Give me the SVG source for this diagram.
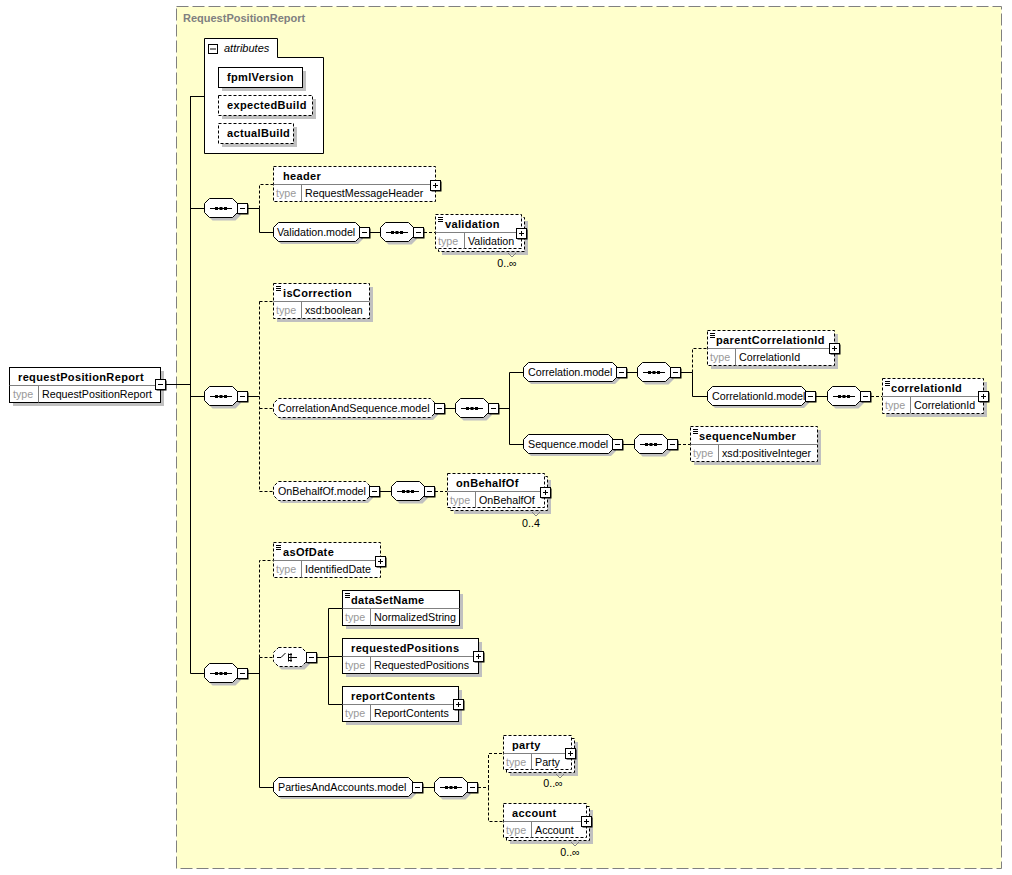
<svg xmlns="http://www.w3.org/2000/svg" xmlns:xlink="http://www.w3.org/1999/xlink" width="1012" height="875" viewBox="0 0 1012 875">
<style>
text{font-family:"Liberation Sans",Arial,sans-serif;font-size:10.7px;fill:#000}
.n{font-weight:bold;font-size:11px;letter-spacing:0.35px}
.t{fill:#999}
.title{font-weight:bold;font-size:11px;fill:#808080}
.it{font-style:italic;font-size:11px}
.el{fill:#fff;stroke:#000}
.dash{stroke-dasharray:3,2}
.sh{fill:#c0c0c0}
.div{fill:none;stroke:#808080}
.ln{fill:none;stroke:#000}
.dl{fill:none;stroke:#000;stroke-dasharray:3,2}
.card{text-anchor:middle}
</style>
<defs>
<g id="mi"><rect x="1.5" y="1.5" width="10" height="10" fill="#000"/><rect x="0.5" y="0.5" width="10" height="10" fill="#fff" stroke="#000"/><path d="M3,5.5H8" stroke="#000"/></g>
<g id="pl"><rect x="1.5" y="1.5" width="10" height="10" fill="#000"/><rect x="0.5" y="0.5" width="10" height="10" fill="#fff" stroke="#000"/><path d="M3,5.5H8M5.5,3V8" stroke="#000"/></g>
<path id="oct" d="M5.5,0.5H28.5L33.5,5.5V14.5L28.5,19.5H5.5L0.5,14.5V5.5Z"/>
<g id="seq">
<use xlink:href="#oct" x="3" y="3" class="sh"/>
<use xlink:href="#oct" fill="#fff" stroke="#000"/>
<path d="M6,10.5H28" stroke="#000"/>
<rect x="11" y="9" width="3" height="3" fill="#000"/><rect x="15.5" y="9" width="3" height="3" fill="#000"/><rect x="20" y="9" width="3" height="3" fill="#000"/>
<use xlink:href="#mi" x="33" y="5"/>
</g>
<g id="choice">
<use xlink:href="#oct" x="3" y="3" class="sh"/>
<use xlink:href="#oct" fill="#fff" stroke="#000" stroke-dasharray="3,2"/>
<path d="M4,10.5H8L12.5,6M15.5,6.5V14.5M15.5,7.5H18M15.5,10.5H24M15.5,13.5H18" stroke="#000" fill="none"/>
<rect x="17" y="6.5" width="2" height="2" fill="#000"/><rect x="17" y="9.5" width="2" height="2" fill="#000"/><rect x="17" y="12.5" width="2" height="2" fill="#000"/>
<use xlink:href="#mi" x="33" y="5"/>
</g>
<path id="icon" d="M2,2.5H7M2,4.5H7M2,6.5H7" stroke="#000"/>
</defs>

<rect x="176.5" y="6.5" width="825" height="862" fill="#ffffcc" stroke="#808080" stroke-dasharray="12,4"/>
<text class="title" x="183" y="22">RequestPositionReport</text>

<g id="connectors">
<path class="ln" d="M165,384.5H190.5M190.5,96V673.5M190.5,96.5H204M190.5,208.5H204M248,208.5H259.5V232.5H273M370,232.5H380"/>
<path class="dl" d="M259.5,208.5V184.5H273M424,232.5H435"/>
<path class="ln" d="M190.5,396.5H204M248,396.5H259.5"/>
<path class="dl" d="M259.5,301.5V491.5M259.5,301.5H273M259.5,408.5H273M259.5,491.5H273"/>
<path class="ln" d="M445,408.5H455M499,408.5H509.5M509.5,372.5V444.5M509.5,372.5H523M509.5,444.5H523M627,372.5H637M681,372.5H692.5V396.5H707M816,396.5H827M623,444.5H634M380,491.5H391"/>
<path class="dl" d="M692.5,372.5V348.5H707M871,396.5H882M678,444.5H690M435,491.5H447"/>
<path class="ln" d="M190.5,673.5H204M248,673.5H259.5M259.5,657.5V787.5H273M317,657.5H328.5M328.5,608.5V704.5M328.5,608.5H342M328.5,656.5H342M328.5,704.5H342M423,787.5H434"/>
<path class="dl" d="M259.5,657.5V560.5H273M259.5,657.5H273M478,787.5H488.5V753.5H503M488.5,787.5V821.5H503"/>
</g>

<g id="requestPositionReport">
<rect class="sh" x="13" y="371" width="151" height="35"/>
<rect class="el" x="9.5" y="367.5" width="151" height="35"/>
<path class="div" d="M9.5,385.5H160.5M38.5,385.5V402.5"/>
<text class="n" x="18" y="381">requestPositionReport</text>
<text class="t" x="13" y="398">type</text>
<text x="42" y="398">RequestPositionReport</text>
<use xlink:href="#mi" x="155" y="379"/>
</g>

<g id="attributes">
<path class="el" d="M204.5,38.5H277.5V57.5H323.5V153.5H204.5Z"/>
<rect x="208.5" y="44.5" width="9" height="9" fill="#fff" stroke="#000"/>
<path d="M210,49H216" stroke="#000"/>
<text class="it" x="224" y="52">attributes</text>
<rect class="sh" x="222" y="71" width="84" height="20"/>
<rect class="el" x="218.5" y="67.5" width="84" height="20"/>
<text class="n" x="227" y="81">fpmlVersion</text>
<rect class="sh" x="222" y="99" width="94" height="20"/>
<rect class="el dash" x="218.5" y="95.5" width="94" height="20"/>
<text class="n" x="227" y="109">expectedBuild</text>
<rect class="sh" x="222" y="127" width="75" height="20"/>
<rect class="el dash" x="218.5" y="123.5" width="75" height="20"/>
<text class="n" x="227" y="137">actualBuild</text>
</g>

<g id="seq1"><use xlink:href="#seq" x="204" y="198"/></g>
<g id="header">
<rect class="el dash" x="273.5" y="166.5" width="162" height="35"/>
<path class="div" d="M273.5,184.5H435.5M301.5,184.5V201.5"/>
<text class="n" x="283" y="180">header</text>
<text class="t" x="276" y="197">type</text>
<text x="305" y="197">RequestMessageHeader</text>
<use xlink:href="#pl" x="430" y="180"/>
</g>
<g id="Validation.model">
<path class="sh" d="M281,225H358L363,230V239L358,244H281L276,239V230Z"/>
<path class="el" d="M278.5,222.5H355.5L360.5,227.5V236.5L355.5,241.5H278.5L273.5,236.5V227.5Z"/>
<text x="277" y="236">Validation.model</text>
<use xlink:href="#mi" x="359" y="227"/>
</g>
<g id="seq1b"><use xlink:href="#seq" x="380" y="222"/></g>
<g id="validation">
<rect class="sh" x="442" y="221" width="86" height="34"/>
<rect class="el dash" x="438.5" y="217.5" width="86" height="34"/>
<rect class="el dash" x="435.5" y="214.5" width="86" height="34"/>
<path class="div" d="M435.5,232.5H521.5M464.5,232.5V248.5"/>
<use xlink:href="#icon" x="436" y="215"/>
<text class="n" x="445" y="228">validation</text>
<text class="t" x="438" y="245">type</text>
<text x="468" y="245">Validation</text>
<use xlink:href="#pl" x="516" y="228"/>
<path d="M508,253L512,257L516,253" fill="none" stroke="#808080"/>
<text class="card" x="507" y="267">0..∞</text>
</g>

<g id="seq2"><use xlink:href="#seq" x="204" y="386"/></g>
<g id="isCorrection">
<rect class="sh" x="277" y="287" width="96" height="35"/>
<rect class="el dash" x="273.5" y="283.5" width="96" height="35"/>
<path class="div" d="M273.5,301.5H369.5M301.5,301.5V318.5"/>
<use xlink:href="#icon" x="274" y="284"/>
<text class="n" x="283" y="297">isCorrection</text>
<text class="t" x="276" y="314">type</text>
<text x="305" y="314">xsd:boolean</text>
</g>
<g id="CorrelationAndSequence.model">
<path class="sh" d="M281,401H433L438,406V415L433,420H281L276,415V406Z"/>
<path class="el dash" d="M278.5,398.5H430.5L435.5,403.5V412.5L430.5,417.5H278.5L273.5,412.5V403.5Z"/>
<text x="278" y="412">CorrelationAndSequence.model</text>
<use xlink:href="#mi" x="434" y="403"/>
</g>
<g id="seqCS"><use xlink:href="#seq" x="455" y="398"/></g>
<g id="Correlation.model">
<path class="sh" d="M531,365H615L620,370V379L615,384H531L526,379V370Z"/>
<path class="el" d="M528.5,362.5H612.5L617.5,367.5V376.5L612.5,381.5H528.5L523.5,376.5V367.5Z"/>
<text x="528" y="376">Correlation.model</text>
<use xlink:href="#mi" x="616" y="367"/>
</g>
<g id="seqCorr"><use xlink:href="#seq" x="637" y="362"/></g>
<g id="parentCorrelationId">
<rect class="sh" x="711" y="334" width="127" height="35"/>
<rect class="el dash" x="707.5" y="330.5" width="127" height="35"/>
<path class="div" d="M707.5,348.5H834.5M735.5,348.5V365.5"/>
<use xlink:href="#icon" x="708" y="331"/>
<text class="n" x="716" y="344">parentCorrelationId</text>
<text class="t" x="710" y="361">type</text>
<text x="739" y="361">CorrelationId</text>
<use xlink:href="#pl" x="829" y="343"/>
</g>
<g id="CorrelationId.model">
<path class="sh" d="M715,389H804L809,394V403L804,408H715L710,403V394Z"/>
<path class="el" d="M712.5,386.5H801.5L806.5,391.5V400.5L801.5,405.5H712.5L707.5,400.5V391.5Z"/>
<text x="712" y="400">CorrelationId.model</text>
<use xlink:href="#mi" x="805" y="391"/>
</g>
<g id="seqCorrId"><use xlink:href="#seq" x="827" y="386"/></g>
<g id="correlationId">
<rect class="sh" x="886" y="382" width="101" height="35"/>
<rect class="el dash" x="882.5" y="378.5" width="101" height="35"/>
<path class="div" d="M882.5,396.5H983.5M910.5,396.5V413.5"/>
<use xlink:href="#icon" x="883" y="379"/>
<text class="n" x="891" y="392">correlationId</text>
<text class="t" x="885" y="409">type</text>
<text x="914" y="409">CorrelationId</text>
<use xlink:href="#pl" x="978" y="391"/>
</g>
<g id="Sequence.model">
<path class="sh" d="M531,437H611L616,442V451L611,456H531L526,451V442Z"/>
<path class="el" d="M528.5,434.5H608.5L613.5,439.5V448.5L608.5,453.5H528.5L523.5,448.5V439.5Z"/>
<text x="528" y="448">Sequence.model</text>
<use xlink:href="#mi" x="612" y="439"/>
</g>
<g id="seqSeq"><use xlink:href="#seq" x="634" y="434"/></g>
<g id="sequenceNumber">
<rect class="sh" x="694" y="430" width="127" height="35"/>
<rect class="el dash" x="690.5" y="426.5" width="127" height="35"/>
<path class="div" d="M690.5,444.5H817.5M718.5,444.5V461.5"/>
<use xlink:href="#icon" x="691" y="427"/>
<text class="n" x="699" y="440">sequenceNumber</text>
<text class="t" x="693" y="457">type</text>
<text x="722" y="457">xsd:positiveInteger</text>
</g>
<g id="OnBehalfOf.model">
<path class="sh" d="M281,484H368L373,489V498L368,503H281L276,498V489Z"/>
<path class="el dash" d="M278.5,481.5H365.5L370.5,486.5V495.5L365.5,500.5H278.5L273.5,495.5V486.5Z"/>
<text x="278" y="495">OnBehalfOf.model</text>
<use xlink:href="#mi" x="369" y="486"/>
</g>
<g id="seqOBO"><use xlink:href="#seq" x="391" y="481"/></g>
<g id="onBehalfOf">
<rect class="sh" x="454" y="480" width="97" height="34"/>
<rect class="el dash" x="450.5" y="476.5" width="97" height="34"/>
<rect class="el dash" x="447.5" y="473.5" width="97" height="34"/>
<path class="div" d="M447.5,491.5H544.5M475.5,491.5V507.5"/>
<text class="n" x="456" y="487">onBehalfOf</text>
<text class="t" x="450" y="504">type</text>
<text x="479" y="504">OnBehalfOf</text>
<use xlink:href="#pl" x="540" y="487"/>
<path d="M532,512L536,516L540,512" fill="none" stroke="#808080"/>
<text class="card" x="531" y="527">0..4</text>
</g>

<g id="seq3"><use xlink:href="#seq" x="204" y="663"/></g>
<g id="asOfDate">
<rect class="el dash" x="273.5" y="542.5" width="107" height="35"/>
<path class="div" d="M273.5,560.5H380.5M301.5,560.5V577.5"/>
<use xlink:href="#icon" x="274" y="543"/>
<text class="n" x="283" y="556">asOfDate</text>
<text class="t" x="276" y="573">type</text>
<text x="305" y="573">IdentifiedDate</text>
<use xlink:href="#pl" x="375" y="556"/>
</g>
<g id="choice1"><use xlink:href="#choice" x="273" y="647"/></g>
<g id="dataSetName">
<rect class="sh" x="346" y="594" width="117" height="35"/>
<rect class="el" x="342.5" y="590.5" width="117" height="35"/>
<path class="div" d="M342.5,608.5H459.5M370.5,608.5V625.5"/>
<use xlink:href="#icon" x="343" y="591"/>
<text class="n" x="351" y="604">dataSetName</text>
<text class="t" x="345" y="621">type</text>
<text x="374" y="621">NormalizedString</text>
</g>
<g id="requestedPositions">
<rect class="sh" x="346" y="642" width="136" height="35"/>
<rect class="el" x="342.5" y="638.5" width="136" height="35"/>
<path class="div" d="M342.5,656.5H478.5M370.5,656.5V673.5"/>
<text class="n" x="351" y="652">requestedPositions</text>
<text class="t" x="345" y="669">type</text>
<text x="374" y="669">RequestedPositions</text>
<use xlink:href="#pl" x="473" y="651"/>
</g>
<g id="reportContents">
<rect class="sh" x="346" y="690" width="116" height="35"/>
<rect class="el" x="342.5" y="686.5" width="116" height="35"/>
<path class="div" d="M342.5,704.5H458.5M370.5,704.5V721.5"/>
<text class="n" x="351" y="700">reportContents</text>
<text class="t" x="345" y="717">type</text>
<text x="374" y="717">ReportContents</text>
<use xlink:href="#pl" x="453" y="699"/>
</g>
<g id="PartiesAndAccounts.model">
<path class="sh" d="M281,780H411L416,785V794L411,799H281L276,794V785Z"/>
<path class="el" d="M278.5,777.5H408.5L413.5,782.5V791.5L408.5,796.5H278.5L273.5,791.5V782.5Z"/>
<text x="278" y="791">PartiesAndAccounts.model</text>
<use xlink:href="#mi" x="412" y="782"/>
</g>
<g id="seqPA"><use xlink:href="#seq" x="434" y="777"/></g>
<g id="party">
<rect class="sh" x="510" y="742" width="68" height="34"/>
<rect class="el dash" x="506.5" y="738.5" width="68" height="34"/>
<rect class="el dash" x="503.5" y="735.5" width="68" height="34"/>
<path class="div" d="M503.5,753.5H571.5M531.5,753.5V769.5"/>
<text class="n" x="512" y="749">party</text>
<text class="t" x="506" y="766">type</text>
<text x="535" y="766">Party</text>
<use xlink:href="#pl" x="565" y="748"/>
<path d="M556,774L560,778L564,774" fill="none" stroke="#808080"/>
<text class="card" x="553" y="787">0..∞</text>
</g>
<g id="account">
<rect class="sh" x="510" y="810" width="83" height="34"/>
<rect class="el dash" x="506.5" y="806.5" width="83" height="34"/>
<rect class="el dash" x="503.5" y="803.5" width="83" height="34"/>
<path class="div" d="M503.5,821.5H586.5M531.5,821.5V837.5"/>
<text class="n" x="512" y="817">account</text>
<text class="t" x="506" y="834">type</text>
<text x="535" y="834">Account</text>
<use xlink:href="#pl" x="581" y="816"/>
<path d="M571,842L575,846L579,842" fill="none" stroke="#808080"/>
<text class="card" x="570" y="856">0..∞</text>
</g>
</svg>
